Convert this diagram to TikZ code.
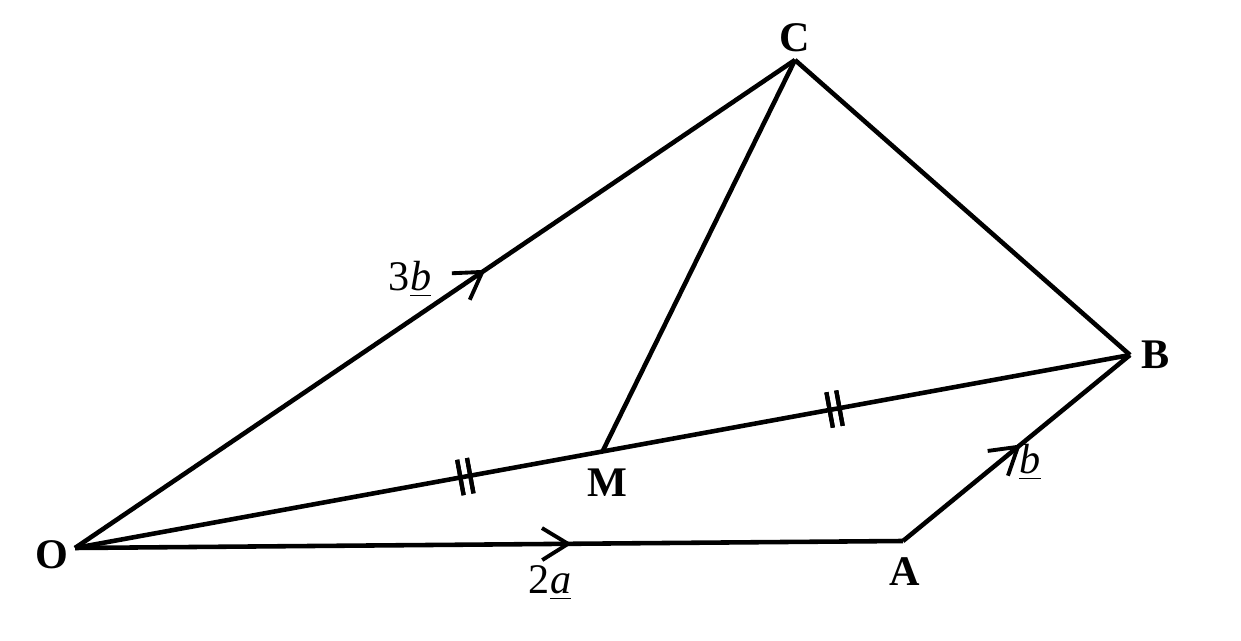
\documentclass[tikz,border=0pt]{standalone}
\usepackage{fontspec}
\setmainfont{Liberation Serif}
\usetikzlibrary{arrows.meta, decorations.markings, calc}

\tikzset{
    edge/.style={line width=1.3pt},
    pt/.style={font=\fontsize{12}{14}\selectfont\bfseries, inner sep=1pt},
    vec/.style={font=\fontsize{12}{14}\selectfont, inner sep=1pt},
    midarrow/.style={postaction={decorate}, decoration={markings,
        mark=at position #1 with {\arrow[line width=1.1pt]{Straight Barb[length=2.6mm, width=3.2mm]}}}},
    ticks/.style={postaction={decorate}, decoration={markings,
        mark=at position #1 with {\draw[line width=1.2pt] (-0.05,-0.18) -- (-0.05,0.18) (0.05,-0.18) -- (0.05,0.18);}}}
}

\newcommand{\ul}[1]{\underline{\smash{\textit{#1}}}}

\begin{document}
\begin{tikzpicture}
    \useasboundingbox (0,0) rectangle (12.41,6.41);
    % Points
    \coordinate (O) at (0.75,0.93);
    \coordinate (A) at (9.03,1.00);
    \coordinate (B) at (11.30,2.86);
    \coordinate (C) at (7.95,5.81);
    \coordinate (M) at ($(O)!0.5!(B)$);

    % Sides
    \draw[edge, midarrow=0.6] (O) -- (A);
    \draw[edge, midarrow=0.52] (A) -- (B);
    \draw[edge, midarrow=0.57] (O) -- (C);
    \draw[edge] (C) -- (B);
    \draw[edge] (M) -- (C);
    % OB with equal marks
    \draw[edge, ticks=0.37, ticks=0.72] (O) -- (B);

    % Labels
    \node[pt] (lO) at (0.52,0.86) {O};
    \node[pt] (lA) at (9.05,0.69) {A};
    \node[pt] (lB) at (11.56,2.86) {B};
    \node[pt] (lC) at (7.95,6.03) {C};
    \node[pt] (lM) at (6.07,1.58) {M};
    \node[vec] (la) at (5.5,0.58) {2\ul{a}};
    \node[vec] (lb) at (10.3,1.64) {\ul{b}};
    \node[vec] (l3b) at (4.1,3.61) {3\ul{b}};
\end{tikzpicture}
\end{document}
